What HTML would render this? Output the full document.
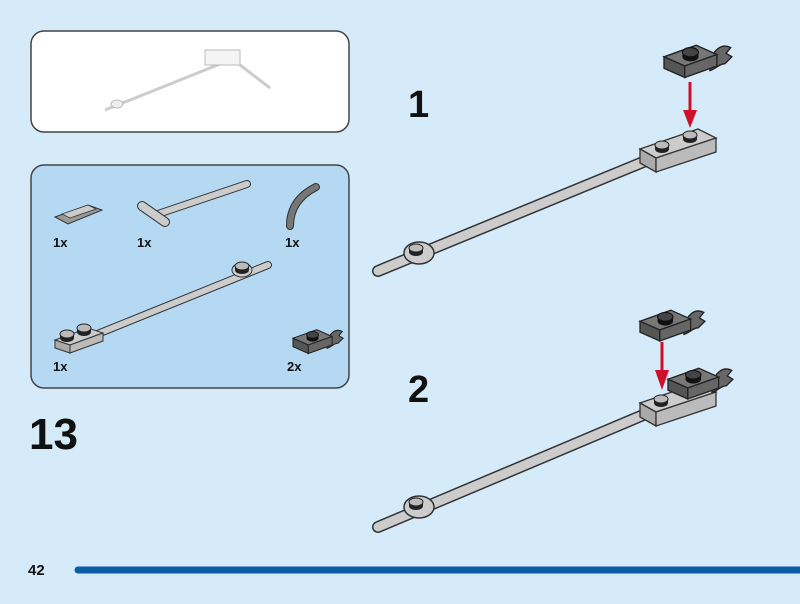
<!DOCTYPE html>
<html><head><style>
html,body{margin:0;padding:0;background:#d6ebf9;}
body{width:800px;height:604px;overflow:hidden;font-family:"Liberation Sans",sans-serif;}
</style></head><body>
<svg width="800" height="604" viewBox="0 0 800 604" xmlns="http://www.w3.org/2000/svg" style="position:absolute;left:0;top:0">
<defs>
<g id="stud">
<ellipse cx="0" cy="3" rx="7" ry="4" fill="#222"/>
<rect x="-7" y="-1" width="14" height="4" fill="#222"/>
<ellipse cx="0" cy="-1" rx="7" ry="4" fill="#bbb" stroke="#222" stroke-width="1"/>
</g>
<g id="dstud">
<ellipse cx="0" cy="3" rx="7" ry="4" fill="#111"/>
<rect x="-7" y="-1" width="14" height="4" fill="#111"/>
<ellipse cx="0" cy="-1" rx="7" ry="4" fill="#444" stroke="#111" stroke-width="1"/>
</g>
<g id="clip">
<path d="M0,-2 C2,-14 10,-20 18,-16 l-4,5 l5,3 l-6,6 C8,-2 6,2 0,4 z" fill="#666" stroke="#222" stroke-width="1.2"/>
<polygon points="-40,-8 -12,-18 6,-10 -22,0" fill="#777" stroke="#222" stroke-width="1.2"/>
<polygon points="-40,-8 -22,0 -22,10 -40,2" fill="#555" stroke="#222" stroke-width="1.2"/>
<polygon points="-22,0 6,-10 6,0 -22,10" fill="#666" stroke="#222" stroke-width="1.2"/>
<use href="#dstud" x="-17" y="-11"/>
</g>
</defs>
<rect x="31" y="31" width="318" height="101" rx="13" fill="#fff" stroke="#444" stroke-width="1.5"/>
<g stroke="#ccc" stroke-width="3" fill="none"><line x1="105" y1="110" x2="225" y2="62"/><line x1="240" y1="65" x2="270" y2="88"/></g>
<rect x="205" y="50" width="35" height="15" fill="#f4f4f4" stroke="#bbb"/>
<ellipse cx="117" cy="104" rx="6" ry="4" fill="#eee" stroke="#bbb"/>
<rect x="31" y="165" width="318" height="223" rx="13" fill="#b5d9f3" stroke="#444" stroke-width="1.5"/>
<polygon points="55,217 88,205 102,210 68,224" fill="#999" stroke="#333"/>
<polygon points="62,214 88,205 96,209 70,218" fill="#ccc" stroke="#333" stroke-width="0.8"/>
<g stroke-linecap="round"><line x1="155" y1="215" x2="247" y2="184" stroke="#333" stroke-width="8"/><line x1="155" y1="215" x2="247" y2="184" stroke="#ccc" stroke-width="6"/>
<line x1="142" y1="206" x2="165" y2="222" stroke="#333" stroke-width="10"/><line x1="142" y1="206" x2="165" y2="222" stroke="#ccc" stroke-width="8"/>
<path d="M290,226 Q290,200 316,187" fill="none" stroke="#333" stroke-width="8"/><path d="M290,226 Q290,200 316,187" fill="none" stroke="#777" stroke-width="6"/>
<line x1="95" y1="335" x2="268" y2="265" stroke="#333" stroke-width="8"/><line x1="95" y1="335" x2="268" y2="265" stroke="#ccc" stroke-width="6"/></g>
<ellipse cx="242" cy="270" rx="10" ry="7" fill="#ccc" stroke="#333"/>
<use href="#stud" x="242" y="267"/>
<polygon points="55,340 88,328 103,333 70,345" fill="#ccc" stroke="#333"/>
<polygon points="55,340 70,345 70,353 55,348" fill="#aaa" stroke="#333"/>
<polygon points="70,345 103,333 103,341 70,353" fill="#bbb" stroke="#333"/>
<use href="#stud" x="67" y="335"/><use href="#stud" x="84" y="329"/>
<g transform="translate(327,345) scale(0.85)"><use href="#clip"/></g>
<g font-size="13" font-weight="bold" fill="#111"><text x="53" y="247">1x</text><text x="137" y="247">1x</text><text x="285" y="247">1x</text><text x="53" y="371">1x</text><text x="287" y="371">2x</text></g>
<text x="29" y="449" font-size="44" font-weight="bold" fill="#111">13</text>
<text x="408" y="117" font-size="38" font-weight="bold" fill="#111">1</text>
<text x="408" y="402" font-size="38" font-weight="bold" fill="#111">2</text>
<g stroke-linecap="round"><line x1="378" y1="271" x2="648" y2="160" stroke="#333" stroke-width="12"/><line x1="378" y1="271" x2="648" y2="160" stroke="#ccc" stroke-width="9"/></g>
<ellipse cx="419" cy="253" rx="15" ry="11" fill="#ccc" stroke="#333" stroke-width="1.5"/>
<use href="#stud" x="416" y="249"/>
<polygon points="640,149 698,129 716,138 656,158" fill="#ccc" stroke="#333" stroke-width="1.3"/>
<polygon points="640,149 656,158 656,172 640,163" fill="#aaa" stroke="#333" stroke-width="1.3"/>
<polygon points="656,158 716,138 716,152 656,172" fill="#bbb" stroke="#333" stroke-width="1.3"/>
<use href="#stud" x="662" y="146"/><use href="#stud" x="690" y="136"/>
<line x1="690" y1="82" x2="690" y2="112" stroke="#d0102a" stroke-width="3"/>
<polygon points="683,110 697,110 690,128" fill="#d0102a"/>
<g transform="translate(710,66) scale(1.15)"><use href="#clip"/></g>
<g stroke-linecap="round"><line x1="378" y1="527" x2="648" y2="413" stroke="#333" stroke-width="12"/><line x1="378" y1="527" x2="648" y2="413" stroke="#ccc" stroke-width="9"/></g>
<ellipse cx="419" cy="507" rx="15" ry="11" fill="#ccc" stroke="#333" stroke-width="1.5"/>
<use href="#stud" x="416" y="503"/>
<polygon points="640,403 698,383 716,392 656,412" fill="#ccc" stroke="#333" stroke-width="1.3"/>
<polygon points="640,403 656,412 656,426 640,417" fill="#aaa" stroke="#333" stroke-width="1.3"/>
<polygon points="656,412 716,392 716,406 656,426" fill="#bbb" stroke="#333" stroke-width="1.3"/>
<g transform="translate(712,388) scale(1.1)"><use href="#clip"/></g>
<use href="#stud" x="661" y="400"/>
<line x1="662" y1="342" x2="662" y2="372" stroke="#d0102a" stroke-width="3"/>
<polygon points="655,370 669,370 662,390" fill="#d0102a"/>
<g transform="translate(684,330) scale(1.1)"><use href="#clip"/></g>
<text x="28" y="575" font-size="15" font-weight="bold" fill="#111">42</text>
<line x1="78" y1="570" x2="805" y2="570" stroke="#0b5ca8" stroke-width="7" stroke-linecap="round"/>
</svg>
</body></html>
